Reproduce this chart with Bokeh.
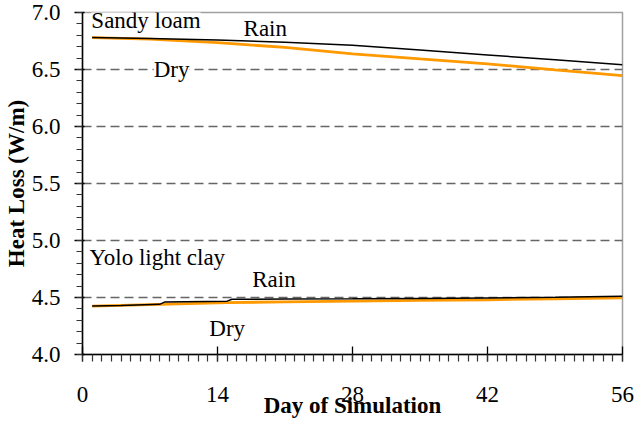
from bokeh.plotting import figure
from bokeh.models import FixedTicker, NumeralTickFormatter, Label, Range1d
from bokeh.embed import file_html
from bokeh.resources import INLINE

# ---- data ----
sandy_rain_day = [1, 7, 14, 21, 28, 35, 42, 49, 56]
sandy_rain = [6.780, 6.771, 6.759, 6.738, 6.712, 6.670, 6.628, 6.585, 6.541]
sandy_dry_day = [1, 7, 14, 21, 28, 35, 42, 49, 56]
sandy_dry = [6.780, 6.766, 6.735, 6.694, 6.637, 6.593, 6.550, 6.497, 6.447]

yolo_rain_day = [1, 4, 8, 8.5, 15, 15.5, 21, 28, 35, 42, 49, 56]
yolo_rain = [4.425, 4.430, 4.440, 4.460, 4.468, 4.485, 4.486, 4.488, 4.492, 4.496, 4.502, 4.510]
yolo_dry_day = [1, 8, 15, 21, 28, 35, 42, 49, 56]
yolo_dry = [4.425, 4.440, 4.455, 4.462, 4.468, 4.474, 4.480, 4.489, 4.497]

x_ticks = [0, 14, 28, 42, 56]
y_ticks = [4.0, 4.5, 5.0, 5.5, 6.0, 6.5, 7.0]

FONT = '"Liberation Serif", "Times New Roman", serif'
ORANGE = "#FF9900"

p = figure(width=635, height=421, output_backend="svg", toolbar_location=None,
           x_range=Range1d(0, 56), y_range=Range1d(4.0, 7.0),
           min_border_left=76, min_border_right=13, min_border_top=12, min_border_bottom=67)
p.background_fill_color = "white"
p.border_fill_color = "white"
p.outline_line_color = "#A0A0A0"
p.outline_line_width = 1.5

# grid
p.xgrid.visible = False
p.ygrid.ticker = FixedTicker(ticks=y_ticks)
p.ygrid.grid_line_color = "#666666"
p.ygrid.grid_line_width = 1.3
p.ygrid.grid_line_dash = "9 5"

# axes
xa = p.xaxis[0]
xa.ticker = FixedTicker(ticks=x_ticks, minor_ticks=list(range(0, 57)))
xa.axis_label = "Day of Simulation"
ya = p.yaxis[0]
ya.ticker = FixedTicker(ticks=y_ticks, minor_ticks=[round(4.0 + 0.1 * i, 1) for i in range(31)])
ya.formatter = NumeralTickFormatter(format="0.0")
ya.axis_label = "Heat Loss (W/m)"

for ax in (xa, ya):
    ax.axis_line_color = "black"
    ax.axis_line_width = 1.5
    ax.major_tick_line_color = "black"
    ax.minor_tick_line_color = "#333333"
    ax.major_tick_line_width = 1.3
    ax.minor_tick_line_width = 1.2
    ax.major_label_text_font = FONT
    ax.major_label_text_font_size = "23px"
    ax.major_label_text_color = "black"
    ax.axis_label_text_font = FONT
    ax.axis_label_text_font_size = "23px"
    ax.axis_label_text_font_style = "bold"
    ax.axis_label_text_color = "black"

xa.major_tick_in = 8
xa.major_tick_out = 7
xa.minor_tick_in = 0
xa.minor_tick_out = 7
xa.major_label_standoff = 25
xa.axis_label_standoff = -12

ya.major_tick_in = 2
ya.major_tick_out = 8
ya.minor_tick_in = 0
ya.minor_tick_out = 6
ya.major_label_standoff = 14
ya.axis_label_standoff = 0

# series
p.line(sandy_dry_day, sandy_dry, line_color=ORANGE, line_width=2.8)
p.line(sandy_rain_day, sandy_rain, line_color="black", line_width=1.5)
p.line(yolo_dry_day, yolo_dry, line_color=ORANGE, line_width=2.8)
p.line(yolo_rain_day, yolo_rain, line_color="black", line_width=1.5)

# annotations
def lab(x, y, text, bg=False):
    kw = dict(x=x, y=y, text=text, text_font=FONT, text_font_size="23px",
              text_color="black", text_baseline="alphabetic", text_align="left")
    if bg:
        kw.update(background_fill_color="white")
    p.add_layout(Label(**kw))

lab(0.92, 6.930, "Sandy loam", bg=True)
lab(16.7, 6.862, "Rain")
lab(7.38, 6.500, "Dry", bg=True)
lab(0.72, 4.847, "Yolo light clay")
lab(17.6, 4.662, "Rain")
lab(13.15, 4.230, "Dry")

open("out.html", "w").write(file_html(p, INLINE))
